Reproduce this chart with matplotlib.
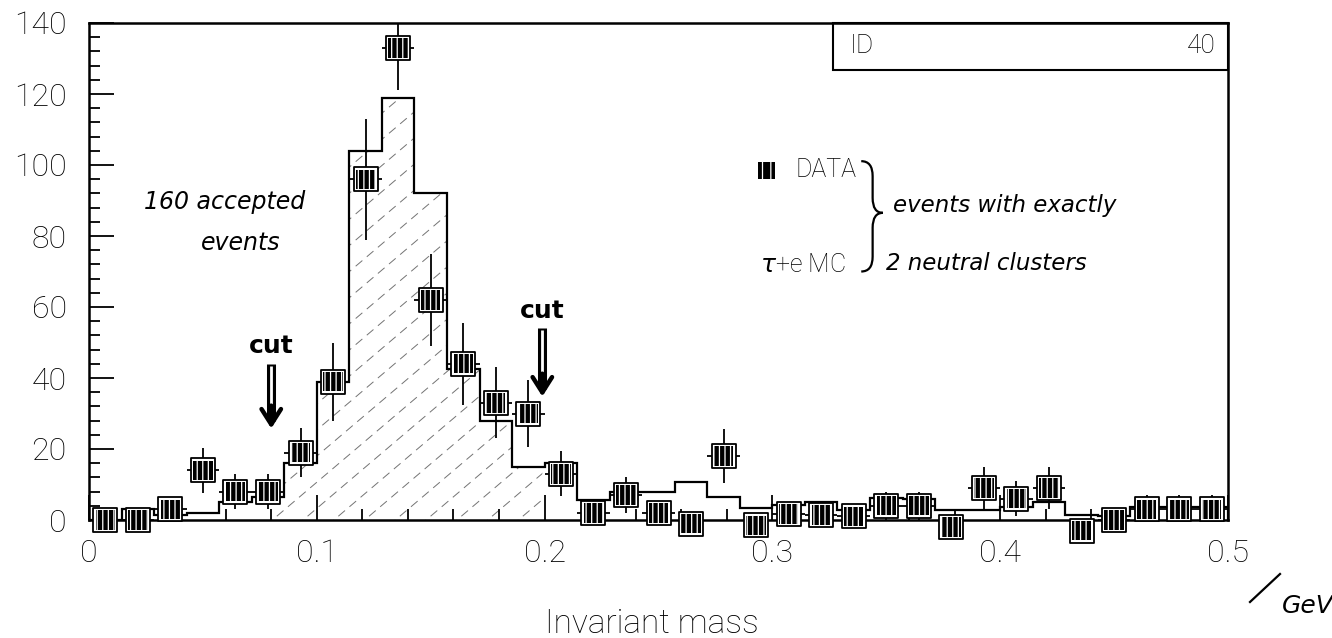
import numpy as np
import matplotlib
matplotlib.use("Agg")
import matplotlib.pyplot as plt
from matplotlib.path import Path
import matplotlib.patches as patches
from matplotlib.ticker import MultipleLocator, FixedLocator, FixedFormatter

# ---- histogram data: 35 bins over 0 - 0.5 GeV ----
n_bins = 35
mass_range = (0.0, 0.5)

data_counts = [0, 0, 3, 14, 8, 8, 19, 39, 96, 133, 62, 44, 33, 30, 13,
               2, 7, 2, -1, 18, -1.5, 1.7, 1.4, 1, 4, 4, -2, 9, 6, 9,
               -3, 0, 3, 3, 3]
data_errors = [2, 2, 3, 6.3, 5, 5, 7, 11, 17, 12, 13, 11.5, 10, 9.5, 6.3,
               3, 5, 3, 3, 7.5, 3, 3, 3, 3, 4, 4, 3, 6, 5, 6,
               3, 3, 4, 4, 4]
mc_counts = [0, 3, 1.4, 2, 5, 6.5, 16, 39, 104, 119, 92, 42.5, 28, 15, 16,
             5.6, 8, 8, 10.7, 6.5, 3.4, 4.2, 5.2, 2.8, 6.2, 6, 2.8, 2.8, 3.8, 5,
             1.4, 1, 3.8, 3.8, 3.8]

cut_lo, cut_hi = 0.08, 0.199

x_ticks = [0, 0.1, 0.2, 0.3, 0.4, 0.5]
x_tick_labels = ["0", "0.1", "0.2", "0.3", "0.4", "0.5"]
y_ticks = [0, 20, 40, 60, 80, 100, 120, 140]
y_tick_labels = ["0", "20", "40", "60", "80", "100", "120", "140"]

PRINT = dict(family="Roboto", weight="light")
HAND = dict(family="DejaVu Sans", style="italic")

plt.rcParams["hatch.color"] = "white"
plt.rcParams["hatch.linewidth"] = 0.9

edges = np.linspace(mass_range[0], mass_range[1], n_bins + 1)
centers = 0.5 * (edges[:-1] + edges[1:])
width = edges[1] - edges[0]
mc = np.asarray(mc_counts, dtype=float)

fig = plt.figure(figsize=(13.32, 6.38), dpi=100)
ax = fig.add_axes([89 / 1332, 1 - 520 / 638, 1139 / 1332, 497 / 638])
ax.set_xlim(*mass_range)
ax.set_ylim(0, 140)

# ---- MC histogram ----
ax.stairs(mc, edges, color="k", lw=1.6, zorder=2)

# hatched region between the two cuts, drawn as dashed diagonals clipped
# to the area under the MC steps
xs = np.linspace(cut_lo, cut_hi, 2000)
ys = mc[np.clip(np.searchsorted(edges, xs, side="right") - 1, 0, n_bins - 1)]
verts = np.vstack([[cut_lo, 0]] + [np.column_stack([xs, ys])] + [[cut_hi, 0]])
clip_poly = patches.Polygon(verts, closed=True, facecolor="none",
                            edgecolor="none", transform=ax.transData)
ax.add_patch(clip_poly)
slope = (1139 / 497) * 0.85
for c in np.arange(-1.0, 1.0, 0.027):
    xx = np.array([0.0, 1.0])
    ln, = ax.plot(xx, (xx - c) * slope, transform=ax.transAxes,
                  color="0.45", lw=0.7, ls=(0, (9, 6)), zorder=1)
    ln.set_clip_path(clip_poly)

# ---- data points ----
ax.errorbar(centers, data_counts, yerr=data_errors, xerr=width / 2,
            fmt="none", ecolor="k", elinewidth=1.3, capsize=0, zorder=3)
ax.scatter(centers, data_counts, marker="s", s=280, facecolor="white",
           edgecolor="k", linewidths=1.3, zorder=4, clip_on=False)
ax.scatter(centers, data_counts, marker="s", s=195, facecolor="k",
           edgecolor="white", linewidths=0, hatch="|||", zorder=5,
           clip_on=False)

# ---- axes styling ----
for side in ["left", "bottom", "top", "right"]:
    ax.spines[side].set_linewidth(1.8)
ax.xaxis.set_major_locator(FixedLocator(x_ticks))
ax.xaxis.set_major_formatter(FixedFormatter(x_tick_labels))
ax.xaxis.set_minor_locator(MultipleLocator(0.02))
ax.yaxis.set_major_locator(FixedLocator(y_ticks))
ax.yaxis.set_major_formatter(FixedFormatter(y_tick_labels))
ax.yaxis.set_minor_locator(MultipleLocator(4))
ax.tick_params(which="both", direction="in", top=False, right=False,
               width=1.3)
ax.tick_params(which="major", length=18)
ax.tick_params(which="minor", length=8)
ax.tick_params(axis="y", pad=16, labelsize=23)
ax.tick_params(axis="x", pad=14, labelsize=23)
for lab in ax.get_xticklabels() + ax.get_yticklabels():
    lab.set_fontfamily(PRINT["family"])
    lab.set_fontweight(PRINT["weight"])

# ---- ID box ----
ax.add_patch(patches.Rectangle((0.653, 0.905), 0.347, 0.095,
                               transform=ax.transAxes, fill=False,
                               lw=1.5, edgecolor="k", clip_on=False))
ax.text(0.668, 0.953, "ID", transform=ax.transAxes, fontsize=19,
        va="center", ha="left", **PRINT)
ax.text(0.989, 0.953, "40", transform=ax.transAxes, fontsize=19,
        va="center", ha="right", **PRINT)

# ---- legend ----
ax.scatter([0.595], [0.704], transform=ax.transAxes, marker="s", s=150,
           facecolor="k", edgecolor="white", linewidths=0, hatch="||",
           clip_on=False, zorder=5)
ax.text(0.620, 0.704, "DATA", transform=ax.transAxes, fontsize=18,
        va="center", ha="left", **PRINT)
ax.text(0.664, 0.513, r"$\tau$+e MC", transform=ax.transAxes, fontsize=18,
        va="center", ha="right", **PRINT)

# curly brace joining both entries
x0, x1, xc = 0.678, 0.697, 0.688
yt, yb, ym, d = 0.722, 0.500, 0.618, 0.03
brace = Path(
    [(x0, yt), (xc, yt), (xc, yt - d), (xc, ym + d), (xc, ym), (x1, ym),
     (xc, ym), (xc, ym - d), (xc, yb + d), (xc, yb), (x0, yb)],
    [Path.MOVETO, Path.CURVE3, Path.CURVE3, Path.LINETO, Path.CURVE3,
     Path.CURVE3, Path.CURVE3, Path.CURVE3, Path.LINETO, Path.CURVE3,
     Path.CURVE3])
ax.add_patch(patches.PathPatch(brace, transform=ax.transAxes, fill=False,
                               lw=1.6, edgecolor="k"))
ax.text(0.706, 0.632, "events with exactly", transform=ax.transAxes,
        fontsize=16.5, va="center", ha="left", **HAND)
ax.text(0.700, 0.517, "2 neutral clusters", transform=ax.transAxes,
        fontsize=16.5, va="center", ha="left", **HAND)

ax.text(0.119, 0.640, "160 accepted", transform=ax.transAxes, fontsize=17,
        va="center", ha="center", **HAND)
ax.text(0.133, 0.557, "events", transform=ax.transAxes, fontsize=17,
        va="center", ha="center", **HAND)

# ---- cut markers ----
for cut, top, tip in [(cut_lo, 44, 25), (cut_hi, 54, 34)]:
    ax.plot([cut, cut], [top, tip + 3], color="k", lw=6.5,
            solid_capstyle="butt", zorder=6)
    ax.plot([cut, cut], [top - 0.6, tip + 3], color="white", lw=2.0,
            solid_capstyle="butt", zorder=7)
    ax.annotate("", xy=(cut, tip), xytext=(cut, tip + 8),
                arrowprops=dict(arrowstyle="->,head_length=1.1,head_width=0.7",
                                lw=3.2, color="k"), zorder=7)
    ax.text(cut, top + 5, "cut", fontsize=18, fontweight="bold",
            ha="center", va="center", family="DejaVu Sans")

# ---- axis title ----
fig.text(0.4895, 0.022, "Invariant mass", ha="center", va="center",
         fontsize=24, **PRINT)
fig.add_artist(plt.Line2D([1250 / 1332, 1280 / 1332],
                          [1 - 602 / 638, 1 - 574 / 638], color="k", lw=1.6))
fig.text(1282 / 1332, 1 - 606 / 638, "GeV", ha="left", va="center",
         fontsize=18, **HAND)

fig.savefig("out.png", dpi=100)
